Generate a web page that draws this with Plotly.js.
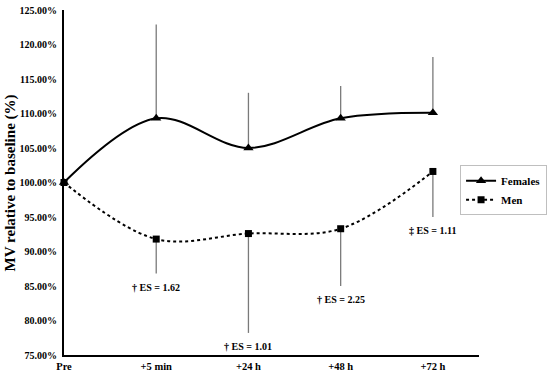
<!DOCTYPE html>
<html>
<head>
<meta charset="utf-8">
<script src="https://cdn.plot.ly/plotly-3.0.1.min.js"></script>
<style>html,body{margin:0;padding:0;background:#fff;}#chart{width:550px;height:373px;}</style>
</head>
<body>
<div id="chart"></div>
<script>
const categories = ["Pre", "+5 min", "+24 h", "+48 h", "+72 h"];
const femalesValues = [100.0, 109.3, 105.0, 109.3, 110.1];
const femalesErrUp = [0, 13.6, 8.0, 4.7, 8.1];
const menValues = [100.0, 91.8, 92.6, 93.3, 101.6];
const menErrDown = [0, 5.0, 14.4, 8.3, 6.6];
const esLabels = ["", "† ES = 1.62", "† ES = 1.01", "† ES = 2.25", "‡ ES = 1.11"];
const yTicks = [75, 80, 85, 90, 95, 100, 105, 110, 115, 120, 125];

const xIdx = categories.map((c, i) => i);
const serif = "Liberation Serif, DejaVu Serif, serif";

const traces = [
  {
    x: xIdx, y: femalesValues, name: "Females", type: "scatter", mode: "lines+markers",
    line: {color: "#000", width: 2, shape: "spline", smoothing: 1},
    marker: {symbol: "triangle-up", size: 9, color: "#000"},
    error_y: {type: "data", symmetric: false, array: femalesErrUp, arrayminus: femalesErrUp.map(() => 0),
              color: "#7a7a7a", thickness: 1.3, width: 0},
    cliponaxis: false
  },
  {
    x: xIdx, y: menValues, name: "Men", type: "scatter", mode: "lines+markers",
    line: {color: "#000", width: 2, dash: "dot", shape: "spline", smoothing: 1},
    marker: {symbol: "square", size: 7, color: "#000"},
    error_y: {type: "data", symmetric: false, array: menErrDown.map(() => 0), arrayminus: menErrDown,
              color: "#7a7a7a", thickness: 1.3, width: 0},
    cliponaxis: false
  }
];

const annotations = [];
for (let i = 1; i < categories.length; i++) {
  const low = menValues[i] - menErrDown[i];
  annotations.push({
    x: xIdx[i], y: low, xref: "x", yref: "y", text: "<b>" + esLabels[i] + "</b>",
    showarrow: false, yanchor: "top", yshift: -6, xanchor: "center",
    font: {family: serif, size: 10, color: "#000"}
  });
}
annotations.push({
  x: -0.128, y: 0.5, xref: "paper", yref: "paper", textangle: -90,
  text: "<b>MV relative to baseline (%)</b>", showarrow: false,
  xanchor: "center", yanchor: "middle",
  font: {family: serif, size: 15, color: "#000"}
});

const layout = {
  width: 550, height: 373,
  margin: {l: 64, r: 71, t: 10, b: 18, autoexpand: false},
  paper_bgcolor: "#fff", plot_bgcolor: "#fff",
  showlegend: true,
  legend: {x: 1.164, y: 0.55, xanchor: "right", yanchor: "top",
           bordercolor: "#bfbfbf", borderwidth: 1, bgcolor: "#fff",
           font: {family: serif, size: 11, color: "#000", weight: "bold"},
           itemwidth: 30, tracegroupgap: 0},
  xaxis: {
    range: [0, 4.5], tickvals: xIdx, ticktext: categories.map(c => "<b>" + c + "</b>"),
    showline: true, linecolor: "#000", linewidth: 2, showgrid: false, zeroline: false,
    ticks: "", tickfont: {family: serif, size: 10.5, color: "#000"}, fixedrange: true
  },
  yaxis: {
    range: [75, 125], tickvals: yTicks, ticktext: yTicks.map(v => "<b>" + v.toFixed(2) + "%</b>"),
    showline: true, linecolor: "#000", linewidth: 2, showgrid: false, zeroline: false,
    ticks: "", tickfont: {family: serif, size: 10, color: "#000"}, ticklabelstandoff: 3
  },
  annotations: annotations
};

Plotly.newPlot("chart", traces, layout, {displayModeBar: false, staticPlot: true});
</script>
</body>
</html>
